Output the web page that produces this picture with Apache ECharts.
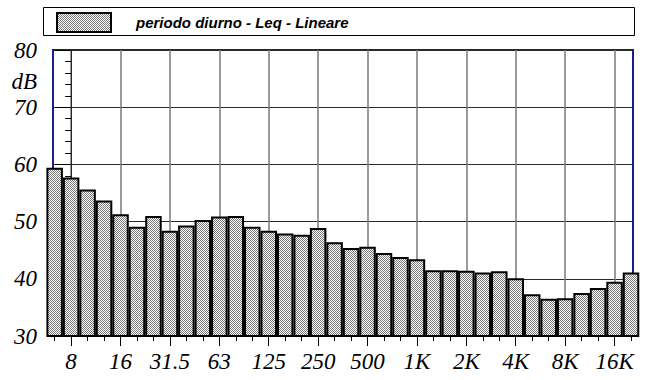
<!DOCTYPE html>
<html>
<head>
<meta charset="utf-8">
<script src="https://cdn.jsdelivr.net/npm/echarts@6/dist/echarts.min.js"></script>
<style>
  html, body { margin: 0; padding: 0; background: #fff; }
  #chart { width: 647px; height: 380px; }
</style>
</head>
<body>
<div id="chart"></div>
<script>
// bande di 1/3 d'ottava, da 6.3 Hz a 20 kHz
const bands = ['6.3', '8', '10', '12.5', '16', '20', '25', '31.5', '40', '50', '63', '80', '100', '125', '160', '200', '250', '315', '400', '500', '630', '800', '1K', '1.25K', '1.6K', '2K', '2.5K', '3.15K', '4K', '5K', '6.3K', '8K', '10K', '12.5K', '16K', '20K']
// Leq lineare (dB) per banda
const leqLineare = [59.4, 57.7, 55.6, 53.7, 51.3, 49.1, 51.0, 48.4, 49.3, 50.3, 50.9, 51.0, 49.1, 48.4, 47.9, 47.7, 48.9, 46.4, 45.4, 45.6, 44.5, 43.8, 43.4, 41.5, 41.5, 41.4, 41.1, 41.3, 40.1, 37.3, 36.5, 36.6, 37.5, 38.4, 39.5, 41.1]
// etichette d'ottava sull'asse x
const octaveLabels = ['8', '16', '31.5', '63', '125', '250', '500', '1K', '2K', '4K', '8K', '16K']
const seriesName = 'periodo diurno - Leq - Lineare'

// posizione sull'asse: 8 Hz = 0
const pos = bands.map((b, i) => i - 1)
const octavePos = octaveLabels.map((l) => bands.indexOf(l) - 1)

// riempimento a scacchiera
const pat = document.createElement('canvas')
pat.width = 2
pat.height = 2
const pctx = pat.getContext('2d')
pctx.fillStyle = '#ffffff'
pctx.fillRect(0, 0, 2, 2)
pctx.fillStyle = '#7a7a7a'
pctx.fillRect(0, 0, 1, 1)
pctx.fillRect(1, 1, 1, 1)

const navy = '#1c1c8c'
const serif = 'Liberation Serif'

// renderer svg: il testo corsivo passa dal motore del browser
const chart = echarts.init(document.getElementById('chart'), null, { renderer: 'svg' })
chart.setOption({
  animation: false,
  backgroundColor: '#fff',
  graphic: [
    {
      type: 'rect',
      z: -1,
      shape: { x: 43.5, y: 7.5, width: 591, height: 28 },
      style: { fill: '#fff', stroke: '#000', lineWidth: 1 }
    },
    {
      type: 'text',
      style: {
        text: 'dB',
        x: 37,
        y: 81,
        align: 'right',
        verticalAlign: 'middle',
        fontFamily: serif,
        fontStyle: 'italic',
        fontSize: 23,
        fill: '#000'
      }
    }
  ],
  legend: {
    left: 56,
    top: 12,
    padding: 0,
    icon: 'rect',
    itemWidth: 54,
    itemHeight: 19,
    data: [seriesName],
    textStyle: {
      fontFamily: 'Liberation Sans',
      fontStyle: 'italic',
      fontWeight: 'bold',
      fontSize: 15,
      color: '#000',
      padding: [0, 0, 0, 20]
    }
  },
  grid: {
    left: 53,
    right: 14,
    top: 50,
    bottom: 44,
    show: true,
    borderColor: navy,
    borderWidth: 2
  },
  xAxis: [
    {
      type: 'value',
      min: -1.1,
      max: 34.12,
      position: 'bottom',
      axisLine: { lineStyle: { color: navy, width: 2 } },
      axisTick: { customValues: pos, length: 5, lineStyle: { color: '#000' } },
      axisLabel: { show: false },
      splitLine: { show: false }
    },
    {
      type: 'value',
      min: -1.1,
      max: 34.12,
      position: 'bottom',
      axisLine: { show: false },
      axisTick: { customValues: octavePos, length: 10, lineStyle: { color: '#000' } },
      axisLabel: {
        customValues: octavePos,
        formatter: (v) => octaveLabels[octavePos.indexOf(Math.round(v))] || '',
        fontFamily: serif,
        fontStyle: 'italic',
        fontSize: 23,
        color: '#000',
        margin: 14
      },
      splitLine: { show: true, lineStyle: { color: '#7a7a7a', width: 1.5 } }
    }
  ],
  yAxis: {
    type: 'value',
    min: 30,
    max: 80,
    interval: 10,
    axisLine: { show: true, lineStyle: { color: navy, width: 1 } },
    axisTick: { show: true, length: 16, lineStyle: { color: '#000' } },
    minorTick: { show: true, splitNumber: 5, length: 6, lineStyle: { color: '#000' } },
    axisLabel: {
      fontFamily: serif,
      fontStyle: 'italic',
      fontSize: 23,
      color: '#000',
      margin: 16
    },
    splitLine: { show: true, lineStyle: { color: '#2a2a2a', width: 1 } }
  },
  series: [
    {
      name: seriesName,
      type: 'bar',
      xAxisIndex: 0,
      barWidth: 16.5,
      clip: true,
      data: pos.map((p, i) => [p, leqLineare[i]]),
      itemStyle: {
        color: { image: pat, repeat: 'repeat' },
        borderColor: '#000',
        borderWidth: 2
      }
    }
  ]
})
</script>
</body>
</html>
